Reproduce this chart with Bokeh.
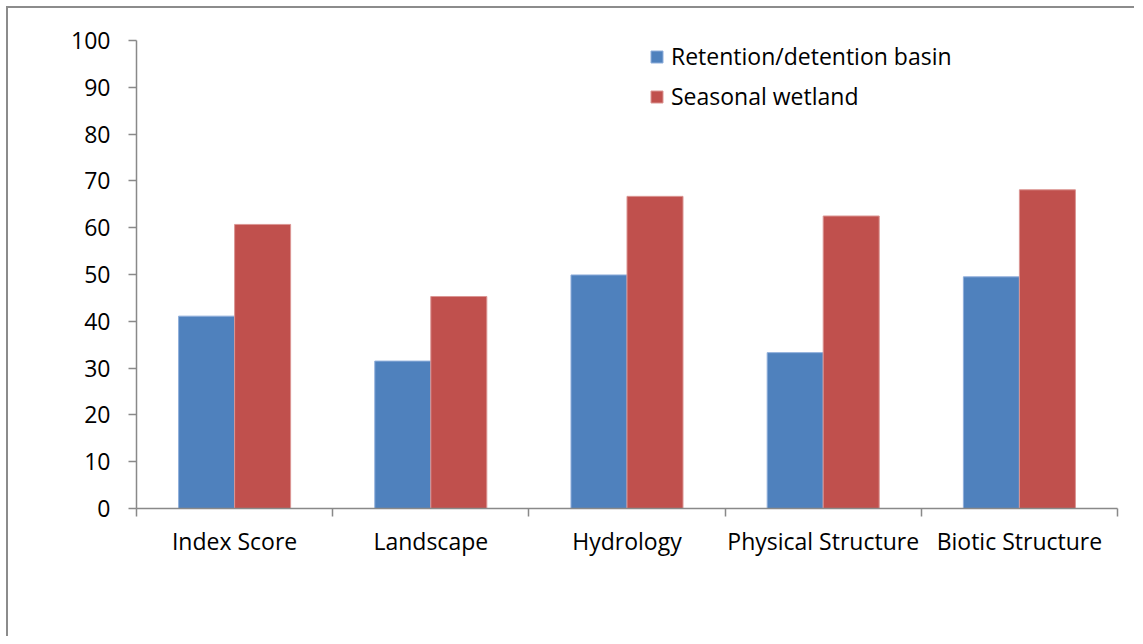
from bokeh.plotting import figure
from bokeh.models import ColumnDataSource, Range1d, FixedTicker, Legend, LegendItem
from bokeh.transform import dodge
from bokeh.embed import file_html
from bokeh.resources import INLINE

categories = ["Index Score", "Landscape", "Hydrology", "Physical Structure", "Biotic Structure"]
retention = [41.1, 31.5, 49.9, 33.3, 49.5]
seasonal = [60.7, 45.3, 66.7, 62.5, 68.1]
y_ticks = [0, 10, 20, 30, 40, 50, 60, 70, 80, 90, 100]
series_names = ["Retention/detention basin", "Seasonal wetland"]

idx = list(range(len(categories)))
src = ColumnDataSource(dict(x=idx, cat=categories, ret=retention, sea=seasonal))

FONT = "Open Sans"
AXIS_COLOR = "#898989"

p = figure(width=1128, height=630, output_backend="svg", toolbar_location=None,
           x_range=Range1d(-0.5, len(categories) - 0.5), y_range=Range1d(0, 100),
           min_border_left=128, min_border_right=19, min_border_top=32, min_border_bottom=130)
p.styles = {"border-left": "2px solid #8c8c8c", "border-top": "2px solid #8c8c8c",
            "margin-left": "6px", "margin-top": "6px"}
p.outline_line_color = None
p.grid.visible = False

w = 0.2855
r1 = p.vbar(x=dodge("x", -w / 2, range=p.x_range), top="ret", width=w, source=src,
            fill_color="#4F81BD", line_color="#8FAEDB", line_width=1)
r2 = p.vbar(x=dodge("x", w / 2, range=p.x_range), top="sea", width=w, source=src,
            fill_color="#C0504D", line_color="#DB9593", line_width=1)

# y axis
p.yaxis.ticker = FixedTicker(ticks=y_ticks)
p.yaxis.axis_line_color = AXIS_COLOR
p.yaxis.axis_line_width = 1.5
p.yaxis.major_tick_line_color = AXIS_COLOR
p.yaxis.major_tick_line_width = 1.5
p.yaxis.major_tick_out = 8
p.yaxis.major_tick_in = 0
p.yaxis.minor_tick_line_color = None
p.yaxis.major_label_text_font = FONT
p.yaxis.major_label_text_font_size = "23px"
p.yaxis.major_label_text_color = "#000000"
p.yaxis.major_label_standoff = 18

# x axis: labels at category centres, ticks at boundaries
p.xaxis.ticker = FixedTicker(ticks=idx, minor_ticks=[i - 0.5 for i in range(len(categories) + 1)])
p.xaxis.major_label_overrides = {i: c for i, c in enumerate(categories)}
p.xaxis.axis_line_color = AXIS_COLOR
p.xaxis.axis_line_width = 1.5
p.xaxis.major_tick_line_color = None
p.xaxis.minor_tick_line_color = AXIS_COLOR
p.xaxis.minor_tick_line_width = 1.5
p.xaxis.minor_tick_out = 8
p.xaxis.minor_tick_in = 0
p.xaxis.major_label_text_font = FONT
p.xaxis.major_label_text_font_size = "23px"
p.xaxis.major_label_text_color = "#000000"
p.xaxis.major_label_standoff = 8

legend = Legend(items=[LegendItem(label=series_names[0], renderers=[r1]),
                       LegendItem(label=series_names[1], renderers=[r2])],
                location=(513, 396), orientation="vertical")
legend.border_line_color = None
legend.background_fill_alpha = 0
legend.padding = 0
legend.margin = 0
legend.glyph_width = 15
legend.glyph_height = 15
legend.label_height = 20
legend.spacing = 8
legend.label_standoff = 7
legend.label_text_font = FONT
legend.label_text_font_size = "23px"
legend.label_text_color = "#000000"
p.add_layout(legend, "center")

open("out.html", "w").write(file_html(p, INLINE))
